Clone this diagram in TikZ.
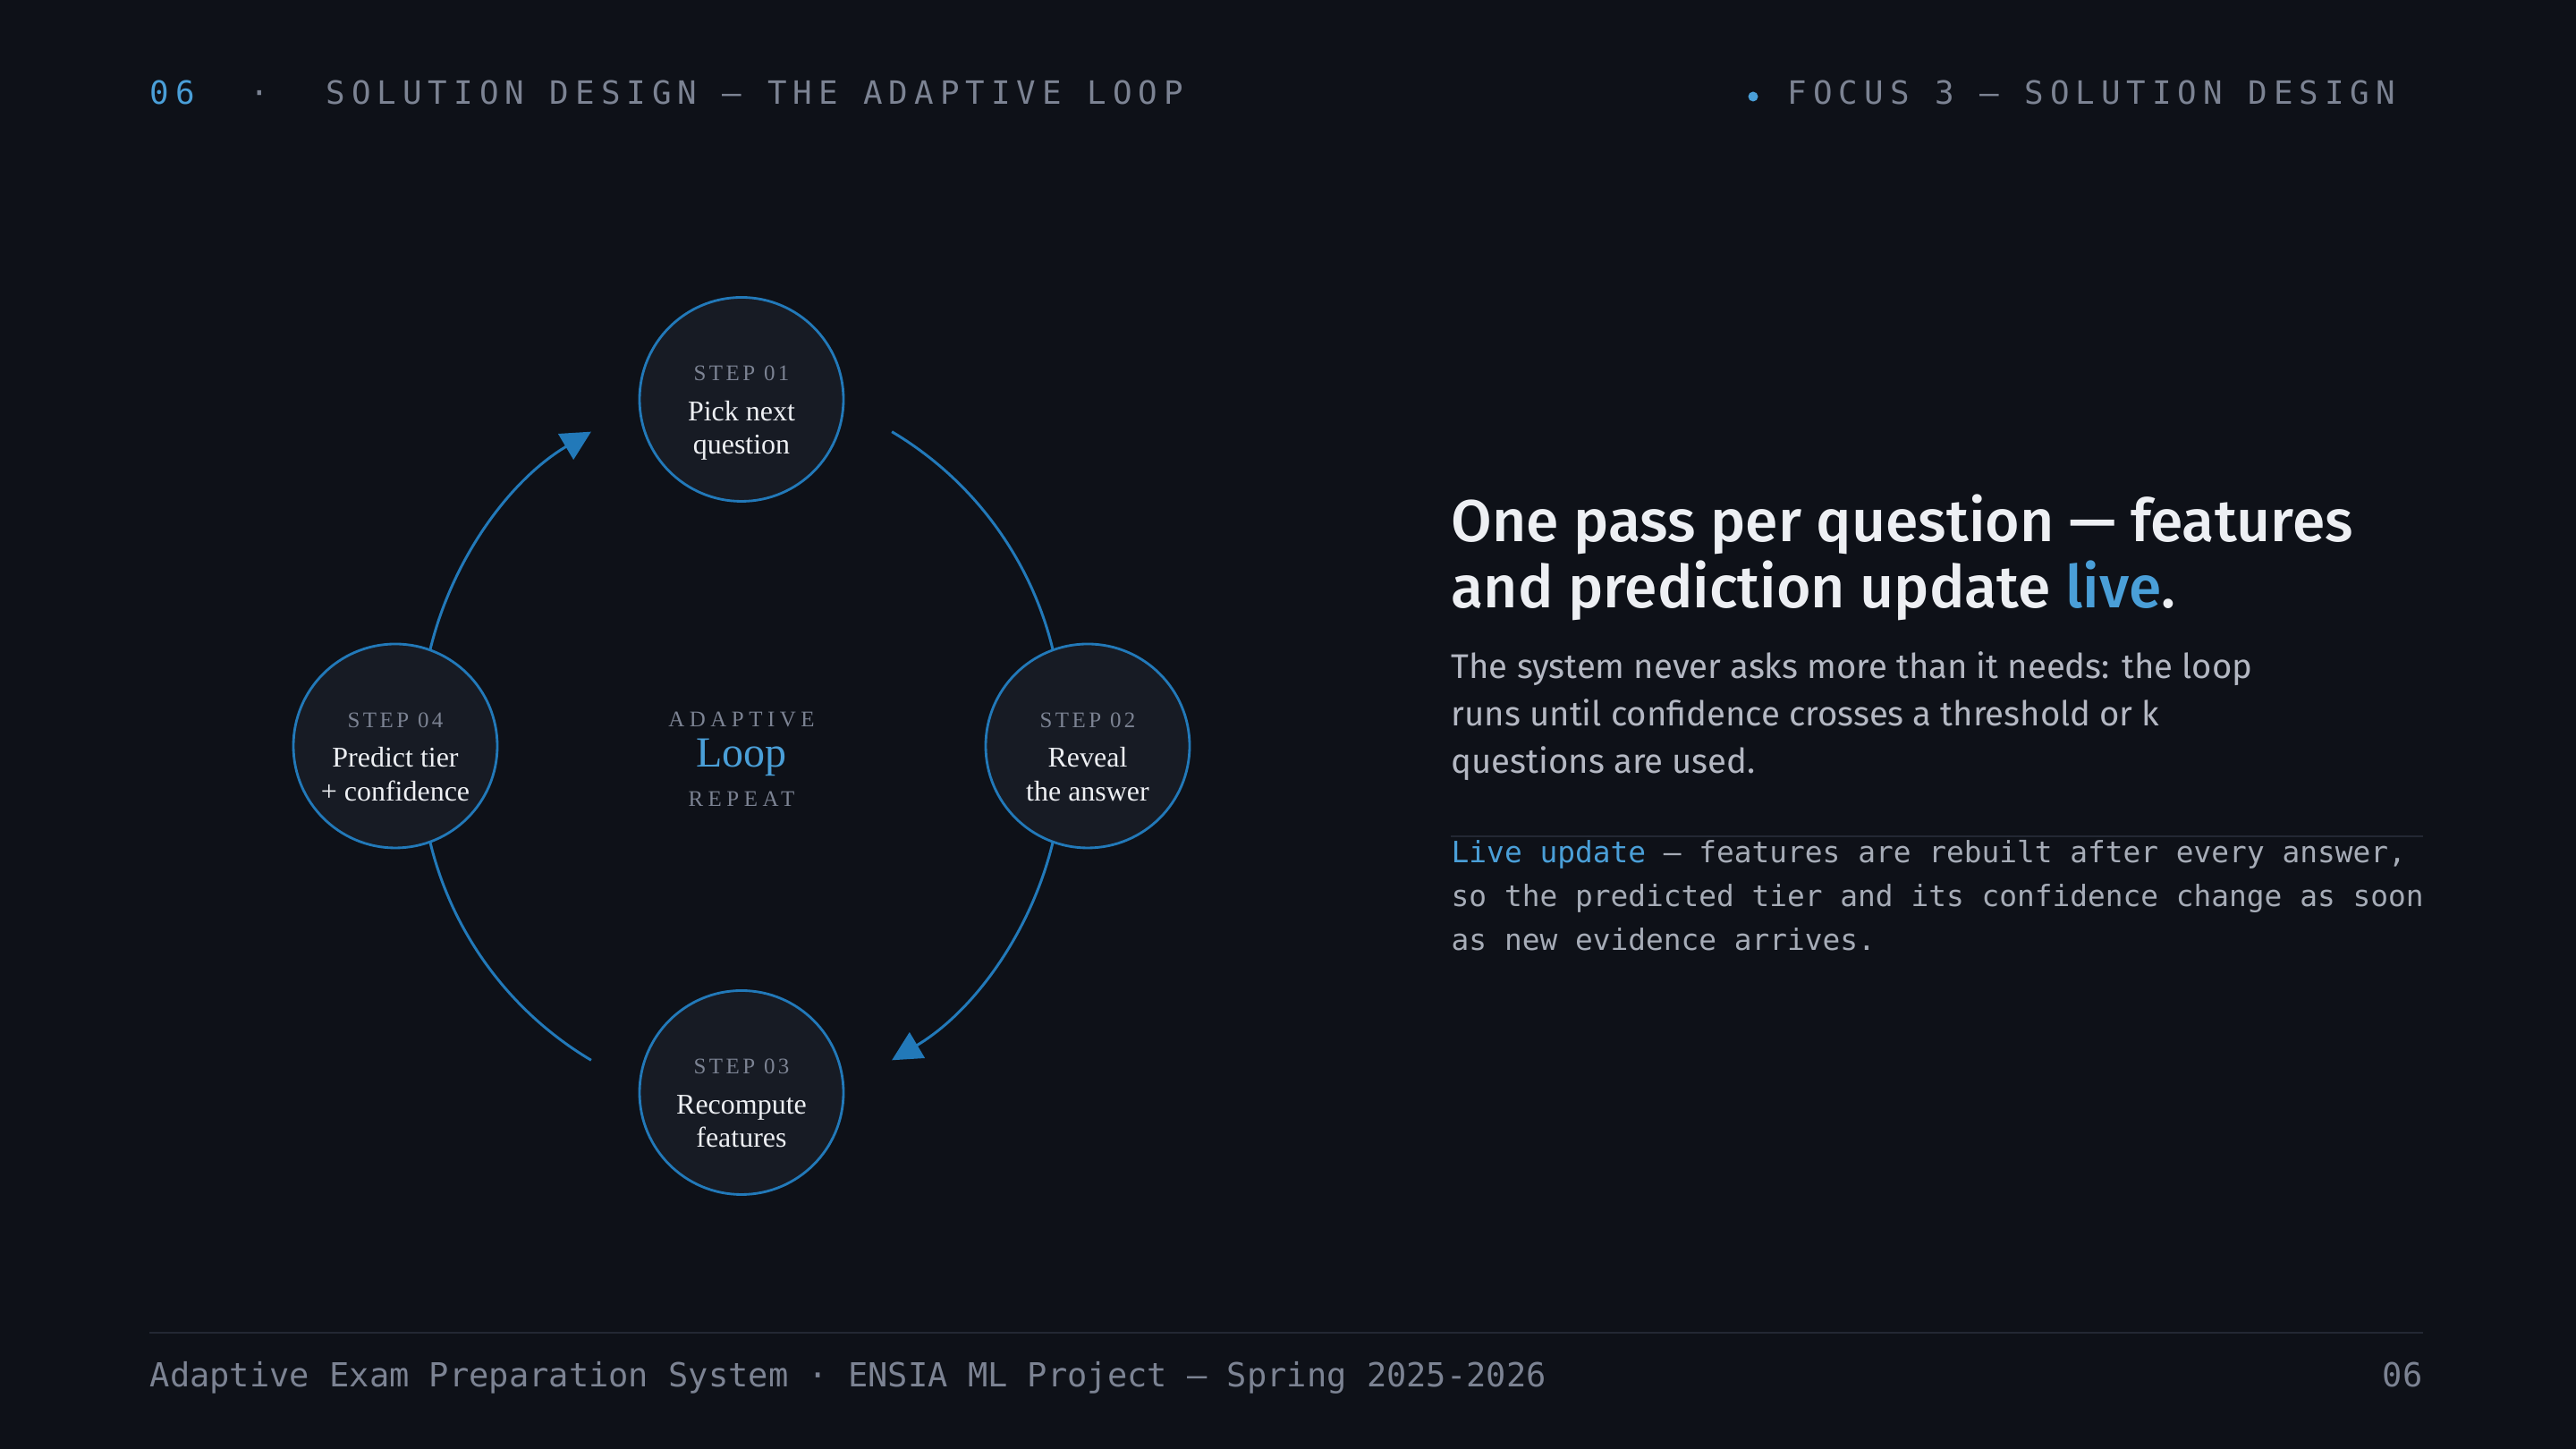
\documentclass[tikz,border=0pt]{standalone}
\usepackage{fontspec}
\setmainfont{Liberation Serif}
\newfontfamily\sansfont{Fira Sans}
\newfontfamily\titlefont{Fira Sans Medium}
\newfontfamily\monofont{DejaVu Sans Mono}
\newfontfamily\headfont[LetterSpace=19.5]{DejaVu Sans Mono}
\newfontfamily\tagfont[LetterSpace=14]{Liberation Serif}
\newfontfamily\capsfont[LetterSpace=22]{Liberation Serif}
\usetikzlibrary{arrows.meta, positioning}

\definecolor{bgdark}{HTML}{0E1118}
\definecolor{ringfill}{HTML}{171B24}
\definecolor{ringblue}{HTML}{2279B9}
\definecolor{textblue}{HTML}{4A9FD8}
\definecolor{headgrey}{HTML}{7C8393}
\definecolor{bodygrey}{HTML}{B4B8C3}
\definecolor{monogrey}{HTML}{A6ACB7}
\definecolor{titlewhite}{HTML}{EDEFF3}
\definecolor{rulegrey}{HTML}{232833}

\begin{document}
\begin{tikzpicture}[
	stepcircle/.style={circle, draw=ringblue, fill=ringfill, line width=0.8pt, minimum size=2.28cm, inner sep=0pt},
	steptag/.style={anchor=base, inner sep=0pt, text=headgrey, font=\tagfont\fontsize{7.1}{8}\selectfont},
	steptext/.style={anchor=base, inner sep=0pt, align=center, text=titlewhite, font=\fontsize{9.1}{10.8}\selectfont},
	loopcap/.style={anchor=base, inner sep=0pt, text=headgrey, font=\capsfont\fontsize{7.1}{8}\selectfont},
	looparc/.style={draw=ringblue, line width=0.85pt},
	looparrow/.style={looparc, -{Triangle[length=0.33cm, width=0.33cm]}},
	headtext/.style={anchor=base west, inner sep=0pt, text=headgrey, font=\headfont\fontsize{10.2}{12}\selectfont},
	foottext/.style={inner sep=0pt, text=headgrey, font=\monofont\fontsize{10.54}{12}\selectfont}
]
	\useasboundingbox (0,0) rectangle (28.8,16.2);
	\fill[bgdark] (0,0) rectangle (28.8,16.2);

	% header
	\node[headtext, text=textblue] (num) at (1.67,15.03) {06};
	\node[headtext, anchor=base] (dot) at (2.90,15.03) {·};
	\node[headtext] (section) at (3.64,15.03) {SOLUTION DESIGN — THE ADAPTIVE LOOP};
	\fill[textblue] (19.60,15.12) circle (0.055);
	\node[headtext] (focus) at (19.98,15.03) {FOCUS 3 — SOLUTION DESIGN};

	% loop arcs (drawn first, the circles sit on top)
	\path (7.98,8.02) ++(59.3:3.9) coordinate (a12);
	\path (7.98,7.70) ++(-13.5:3.9) coordinate (a23);
	\path (8.60,7.70) ++(239.3:3.9) coordinate (a34);
	\path (8.60,8.02) ++(166.5:3.9) coordinate (a41);
	\draw[looparc] (a12) arc[start angle=59.3, end angle=13.5, radius=3.9];
	\draw[looparrow] (a23) arc[start angle=-13.5, end angle=-59.3, radius=3.9];
	\draw[looparc] (a34) arc[start angle=239.3, end angle=193.5, radius=3.9];
	\draw[looparrow] (a41) arc[start angle=166.5, end angle=120.7, radius=3.9];

	% steps
	\node[stepcircle] (s01) at (8.29,11.735) {};
	\node[steptag] (tag01) at (8.29,11.94) {STEP 01};
	\node[steptext] (txt01) at (8.29,11.12) {Pick next\\question};

	\node[stepcircle] (s02) at (12.16,7.86) {};
	\node[steptag] (tag02) at (12.16,8.065) {STEP 02};
	\node[steptext] (txt02) at (12.16,7.245) {Reveal\\the answer};

	\node[stepcircle] (s03) at (8.29,3.985) {};
	\node[steptag] (tag03) at (8.29,4.19) {STEP 03};
	\node[steptext] (txt03) at (8.29,3.37) {Recompute\\features};

	\node[stepcircle] (s04) at (4.42,7.86) {};
	\node[steptag] (tag04) at (4.42,8.065) {STEP 04};
	\node[steptext] (txt04) at (4.42,7.245) {Predict tier\\+ confidence};

	% centre
	\node[loopcap] (adaptive) at (8.29,8.07) {ADAPTIVE};
	\node[anchor=base, inner sep=0pt, text=textblue, font=\fontsize{13.66}{16}\selectfont] (looplabel) at (8.29,7.62) {Loop};
	\node[loopcap] (repeat) at (8.29,7.18) {REPEAT};

	% right column
	\node[anchor=base west, inner sep=0pt, align=left, text=titlewhite, font=\titlefont\fontsize{18.8}{21.3}\selectfont] (headline) at (16.22,9.40)
		{One pass per question — features\\and prediction update \textcolor{textblue}{live}.};
	\node[anchor=base west, inner sep=0pt, align=left, text=bodygrey, font=\sansfont\fontsize{10.9}{15.2}\selectfont] (body) at (16.22,7.55)
		{The system never asks more than it needs: the loop\\runs until confidence crosses a threshold or k\\questions are used.};
	\draw[rulegrey, line width=0.6pt] (16.22,6.85) -- (27.09,6.85);
	\node[anchor=base west, inner sep=0pt, align=left, text=monogrey, font=\monofont\fontsize{9.34}{13.94}\selectfont] (note) at (16.22,5.57)
		{\textcolor{textblue}{Live update} — features are rebuilt after every answer,\\so the predicted tier and its confidence change as soon\\as new evidence arrives.};

	% footer
	\draw[rulegrey, line width=0.6pt] (1.67,1.30) -- (27.09,1.30);
	\node[foottext, anchor=base west] (foot) at (1.67,0.69) {Adaptive Exam Preparation System · ENSIA ML Project — Spring 2025-2026};
	\node[foottext, anchor=base east] (page) at (27.09,0.69) {06};
\end{tikzpicture}
\end{document}
